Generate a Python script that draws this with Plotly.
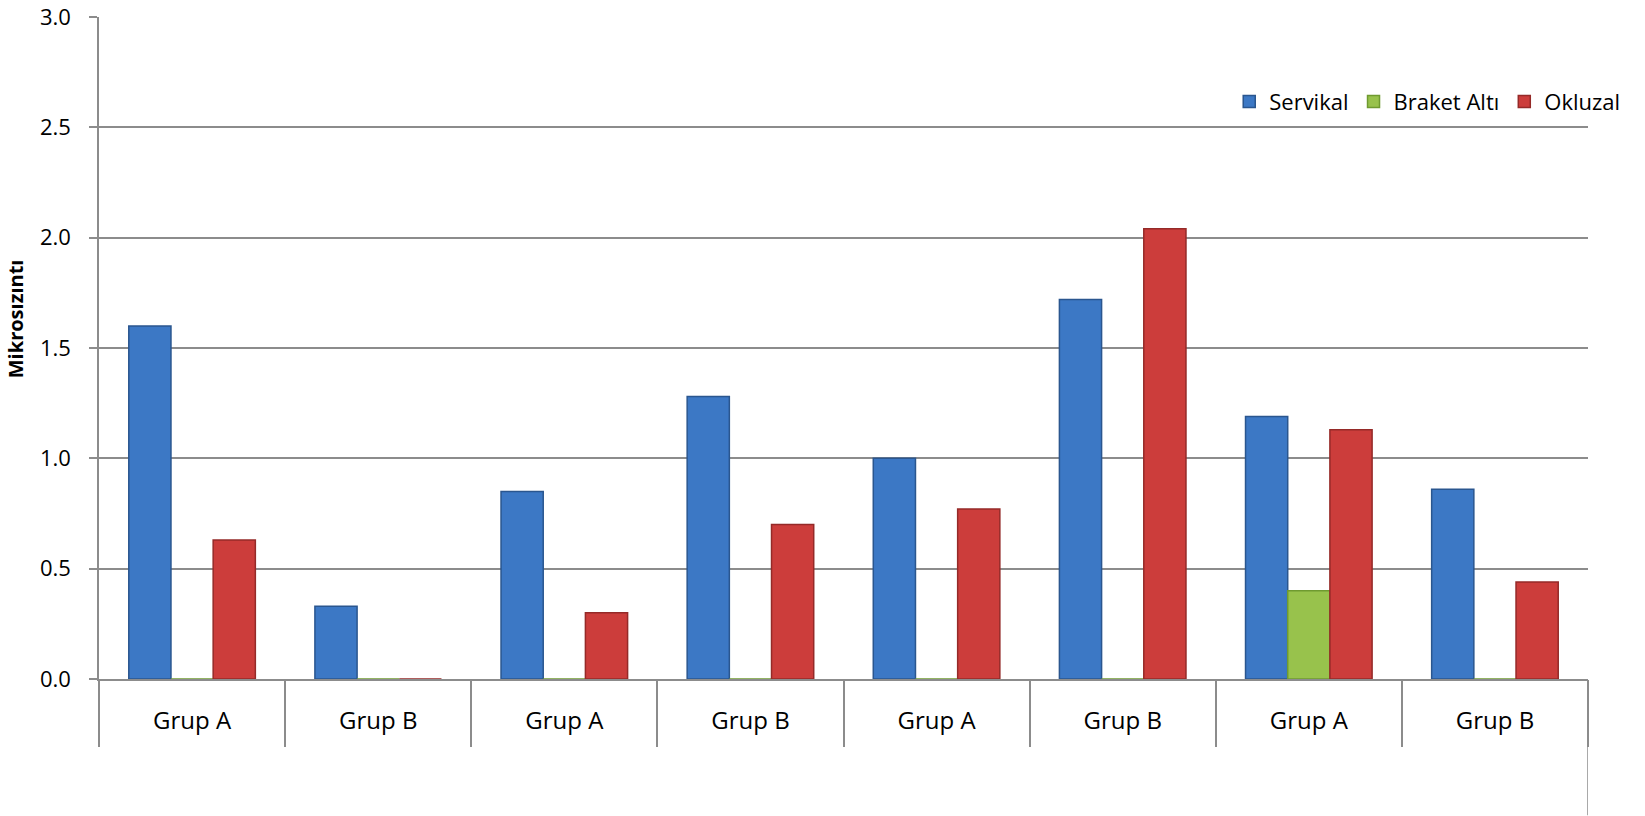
import plotly.graph_objects as go

categories = ["Grup A", "Grup B", "Grup A", "Grup B", "Grup A", "Grup B", "Grup A", "Grup B"]
servikal = [1.60, 0.33, 0.85, 1.28, 1.00, 1.72, 1.19, 0.86]
braket_alti = [0.0, 0.0, 0.0, 0.0, 0.0, 0.0, 0.40, 0.0]
okluzal = [0.63, 0.0, 0.30, 0.70, 0.77, 2.04, 1.13, 0.44]
y_ticks = [0.0, 0.5, 1.0, 1.5, 2.0, 2.5, 3.0]

x_idx = list(range(len(categories)))
FONT = "Open Sans"
FS = 24

series = [
    ("Servikal", servikal, "#3c78c5", "#2a568f"),
    ("Braket Altı", braket_alti, "#98c24c", "#6f9a30"),
    ("Okluzal", okluzal, "#cc3d3b", "#952a28"),
]

fig = go.Figure()
for name, vals, col, edge in series:
    fig.add_trace(go.Bar(
        x=x_idx, y=vals, name=name,
        marker=dict(color=col, line=dict(color=edge, width=1.5)),
    ))

n = len(categories)
fig.update_layout(
    width=1645, height=816,
    margin=dict(l=99, r=57, t=17, b=137, autoexpand=False),
    paper_bgcolor="white", plot_bgcolor="white",
    barmode="group", bargap=0.32, bargroupgap=0.0,
    font=dict(family=FONT, size=FS, color="#000000"),
    showlegend=True,
    legend=dict(orientation="h", x=1.025, xanchor="right", y=0.872, yanchor="middle",
                font=dict(family=FONT, size=22), itemwidth=30, traceorder="normal",
                bgcolor="rgba(0,0,0,0)", itemclick=False),
    xaxis=dict(
        range=[-0.5, n - 0.5], tickmode="array", tickvals=x_idx, ticktext=categories,
        ticks="", showline=True, linecolor="#8c8c8c", linewidth=1.5,
        showgrid=False, zeroline=False, ticklabelstandoff=19, automargin=False,
        tickfont=dict(family=FONT, size=FS), ticklabeloverflow="allow",
    ),
    xaxis2=dict(
        overlaying="x", matches="x", side="bottom", tickmode="array",
        tickvals=[i - 0.5 for i in range(n + 1)], ticks="outside", ticklen=67,
        tickcolor="#8c8c8c", tickwidth=1.5, showticklabels=False, showgrid=False,
        zeroline=False, showline=False, range=[-0.5, n - 0.5], automargin=False,
    ),
    yaxis=dict(
        range=[0, 3.0], tickmode="array", tickvals=y_ticks,
        ticktext=[f"{v:.1f}" for v in y_ticks],
        showgrid=True, gridcolor="#8c8c8c", gridwidth=1.5,
        showline=True, linecolor="#8c8c8c", linewidth=1.5,
        ticks="outside", ticklen=8, tickcolor="#8c8c8c", tickwidth=1.5,
        zeroline=False, ticklabelstandoff=14, automargin=False,
        tickfont=dict(family=FONT, size=22), ticklabeloverflow="allow",
    ),
)
fig.add_annotation(text="<b>Mikrosızıntı</b>", xref="paper", yref="paper",
                   x=-0.0555, y=0.544, textangle=-90, showarrow=False,
                   font=dict(family=FONT, size=20, color="#000000"),
                   xanchor="center", yanchor="middle")
# invisible trace to activate xaxis2
fig.add_trace(go.Scatter(x=[0], y=[0], xaxis="x2", mode="markers",
                         marker=dict(opacity=0), showlegend=False, hoverinfo="skip"))
# extended outer-level boundary on the right
fig.add_shape(type="line", xref="x", yref="paper", x0=n - 0.5, x1=n - 0.5,
              y0=0, y1=-0.206, line=dict(color="#8c8c8c", width=1.5))

fig.write_html("out.html", config={"displayModeBar": False},
               post_script="document.body.style.margin='0';document.body.style.overflow='hidden';")
